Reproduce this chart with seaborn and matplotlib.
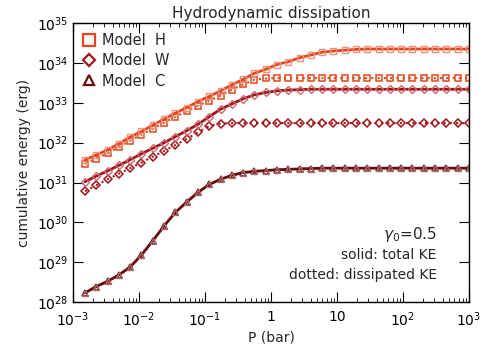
import matplotlib
matplotlib.use("Agg")
import matplotlib.pyplot as plt
import numpy as np
import pandas as pd
import seaborn as sns

# pressure grid (bar)
pressure = [1.52e-3, 2.25e-3, 3.34e-3, 4.95e-3, 7.35e-3, 1.09e-2, 1.62e-2, 2.40e-2,
            3.56e-2, 5.27e-2, 7.82e-2, 0.116, 0.172, 0.255, 0.378, 0.560, 0.831,
            1.23, 1.83, 2.71, 4.02, 5.96, 8.83, 13.1, 19.4, 28.8, 42.7, 63.4, 94.0,
            139, 207, 306, 454, 673, 1000]

# log10 cumulative energy (erg)
H_total = [31.57, 31.69, 31.82, 31.97, 32.14, 32.28, 32.44, 32.59, 32.74, 32.88,
           33.03, 33.16, 33.30, 33.45, 33.59, 33.74, 33.84, 33.96, 34.03, 34.13,
           34.20, 34.27, 34.30, 34.32, 34.34, 34.35, 34.35, 34.35, 34.35, 34.35,
           34.35, 34.35, 34.35, 34.35, 34.35]
H_diss = [31.47, 31.60, 31.74, 31.89, 32.05, 32.20, 32.35, 32.50, 32.65, 32.79,
          32.93, 33.05, 33.18, 33.33, 33.46, 33.58, 33.61, 33.62, 33.62, 33.62,
          33.62, 33.62, 33.62, 33.62, 33.62, 33.62, 33.62, 33.62, 33.62, 33.62,
          33.62, 33.62, 33.62, 33.62, 33.62]
W_total = [31.02, 31.16, 31.29, 31.43, 31.57, 31.72, 31.86, 32.00, 32.15, 32.30,
           32.46, 32.65, 32.84, 32.97, 33.10, 33.20, 33.26, 33.30, 33.32, 33.33,
           33.34, 33.34, 33.34, 33.34, 33.34, 33.34, 33.34, 33.34, 33.34, 33.34,
           33.34, 33.34, 33.34, 33.34, 33.34]
W_diss = [30.78, 30.93, 31.08, 31.22, 31.36, 31.50, 31.65, 31.79, 31.94, 32.09,
          32.26, 32.42, 32.48, 32.49, 32.49, 32.49, 32.49, 32.49, 32.49, 32.49,
          32.49, 32.49, 32.49, 32.49, 32.49, 32.49, 32.49, 32.49, 32.49, 32.49,
          32.49, 32.49, 32.49, 32.49, 32.49]
C_total = [28.23, 28.39, 28.52, 28.68, 28.88, 29.18, 29.54, 29.91, 30.25, 30.51,
           30.75, 30.95, 31.08, 31.18, 31.25, 31.28, 31.30, 31.32, 31.33, 31.34,
           31.35, 31.36, 31.36, 31.36, 31.36, 31.36, 31.36, 31.36, 31.36, 31.36,
           31.36, 31.36, 31.36, 31.36, 31.36]
C_diss = C_total

models = ["H", "W", "C"]
colors = {"H": "#e2461c", "W": "#a3151a", "C": "#6a0c0c"}
light = {"H": "#f0907a", "W": "#c96a6e", "C": "#a86a6a"}
mark = {"H": "s", "W": "D", "C": "^"}
msize = {"H": 5, "W": 3.6, "C": 4.6}
series = {"H": (H_total, H_diss), "W": (W_total, W_diss), "C": (C_total, C_diss)}

sns.set_style("ticks")
plt.rcParams["font.family"] = ["DejaVu Sans"]
fig = plt.figure(figsize=(4.91, 3.5), dpi=100)
ax = fig.add_axes([0.1487, 0.137, 0.8063, 0.797])

for m in models:
    tot, dis = series[m]
    df = pd.DataFrame({"P": pressure, "tot": 10 ** np.array(tot), "dis": 10 ** np.array(dis)})
    sns.lineplot(data=df, x="P", y="dis", ax=ax, color=colors[m], lw=1.5,
                 linestyle=(0, (1, 2)), marker=mark[m], markersize=msize[m],
                 markerfacecolor="none", markeredgecolor=colors[m], markeredgewidth=1.1)
    sns.lineplot(data=df, x="P", y="tot", ax=ax, color=colors[m], lw=2.0,
                 marker=mark[m], markersize=msize[m], markerfacecolor="none",
                 markeredgecolor=light[m], markeredgewidth=1.0)
    ax.plot([], [], ls="none", marker=mark[m], markersize=msize[m] + 3,
            markerfacecolor="none", markeredgecolor=colors[m], markeredgewidth=1.6,
            label="Model  " + m)

ax.set_xscale("log")
ax.set_yscale("log")
ax.set_xlim(1e-3, 1e3)
ax.set_ylim(1e28, 1e35)
ax.set_xticks([1e-3, 1e-2, 1e-1, 1, 10, 1e2, 1e3])
ax.set_xticklabels(["$10^{-3}$", "$10^{-2}$", "$10^{-1}$", "1", "10", "$10^{2}$", "$10^{3}$"])
ax.set_yticks([10.0 ** k for k in range(28, 36)])
ax.set_yticklabels(["$10^{%d}$" % k for k in range(28, 36)])
ax.yaxis.set_minor_locator(matplotlib.ticker.NullLocator())
ax.tick_params(which="both", direction="in", top=True, right=True, labelsize=10, colors="black")
ax.tick_params(which="major", length=7)
ax.tick_params(which="minor", length=3)
ax.tick_params(axis="x", pad=6)
for s in ax.spines.values():
    s.set_linewidth(1.0)
    s.set_color("black")

ax.set_xlabel("P (bar)", fontsize=10, labelpad=1)
ax.set_ylabel("cumulative energy (erg)", fontsize=10)
ax.set_title("Hydrodynamic dissipation", fontsize=11, pad=4)

ax.legend(loc="upper left", frameon=False, fontsize=10.5, handlelength=0.8,
          handletextpad=0.5, borderaxespad=0.3, labelspacing=0.35)

ax.text(0.919, 0.225, r"$\gamma_0$=0.5", transform=ax.transAxes, ha="right", fontsize=11)
ax.text(0.919, 0.155, "solid: total KE", transform=ax.transAxes, ha="right", fontsize=10)
ax.text(0.919, 0.083, "dotted: dissipated KE", transform=ax.transAxes, ha="right", fontsize=10)

fig.savefig("out.png", dpi=100)
